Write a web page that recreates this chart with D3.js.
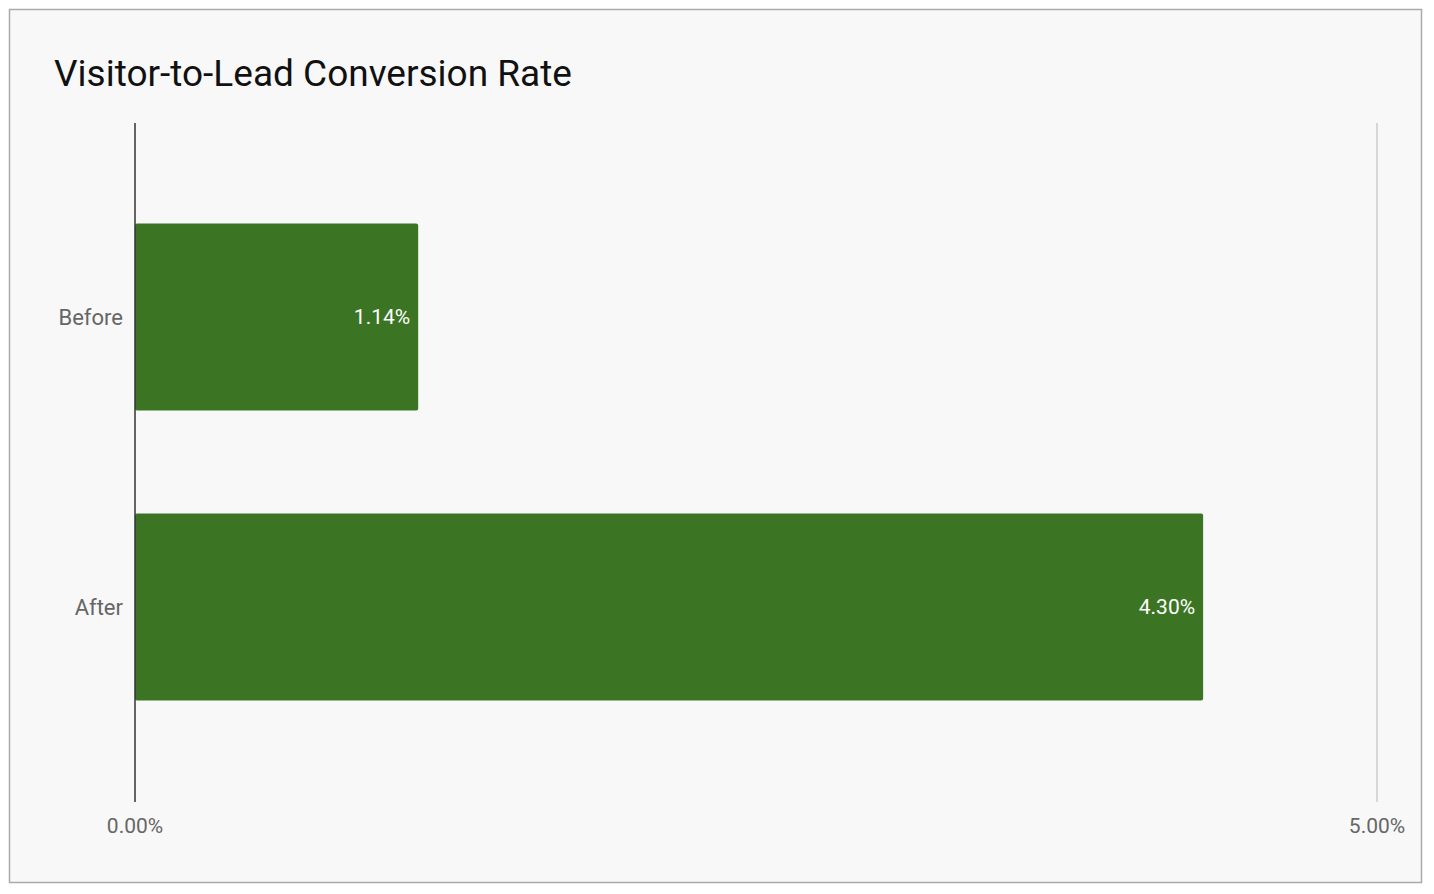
<!DOCTYPE html>
<html>
<head>
<meta charset="utf-8">
<script src="https://cdn.jsdelivr.net/npm/d3@7"></script>
<style>
  body { margin: 0; background: #fff; font-family: Roboto, "Noto Sans", sans-serif; }
</style>
</head>
<body>
<svg id="chart" width="1434" height="894"></svg>
<script>
// 数据
const categories = ['Before', 'After'];
const values = [1.14, 4.30];
const tickValues = [0, 5];

const svg = d3.select('#chart');

// 背景 和 边框
svg.append('rect')
    .attr('x', 9.5).attr('y', 9.5)
    .attr('width', 1412).attr('height', 873)
    .attr('fill', '#f8f8f8')
    .attr('stroke', '#aaaaaa')
    .attr('stroke-width', 1.5);

// 标题
svg.append('text')
    .attr('x', 54).attr('y', 86)
    .attr('font-size', 37)
    .attr('fill', '#111')
    .text('Visitor-to-Lead Conversion Rate');

// 比例尺
const xScale = d3.scaleLinear().domain([0, 5]).range([135, 1377]);
const yScale = d3.scaleBand()
    .domain(categories)
    .range([172, 752])
    .paddingInner(0.355)
    .paddingOuter(0.1775);

// 网格线
svg.selectAll('.grid')
    .data(tickValues.filter(d => d !== 0))
    .enter().append('line')
    .attr('x1', d => xScale(d)).attr('x2', d => xScale(d))
    .attr('y1', 123).attr('y2', 802)
    .attr('stroke', '#cccccc').attr('stroke-width', 1.5);

// 柱子
const data = categories.map((c, i) => ({cat: c, val: values[i]}));
svg.selectAll('.bar')
    .data(data)
    .enter().append('rect')
    .attr('x', xScale(0))
    .attr('y', d => yScale(d.cat))
    .attr('width', d => xScale(d.val) - xScale(0))
    .attr('height', yScale.bandwidth())
    .attr('rx', 2).attr('ry', 2)
    .attr('fill', '#3b7524');

// 数值 标签
svg.selectAll('.val')
    .data(data)
    .enter().append('text')
    .attr('x', d => xScale(d.val) - 8)
    .attr('y', d => yScale(d.cat) + yScale.bandwidth() / 2)
    .attr('dy', '0.35em')
    .attr('text-anchor', 'end')
    .attr('font-size', 21)
    .attr('fill', '#fff')
    .text(d => d.val.toFixed(2) + '%');

// 类别 标签
svg.selectAll('.cat')
    .data(categories)
    .enter().append('text')
    .attr('x', 123)
    .attr('y', d => yScale(d) + yScale.bandwidth() / 2)
    .attr('dy', '0.35em')
    .attr('text-anchor', 'end')
    .attr('font-size', 22)
    .attr('fill', '#666')
    .text(d => d);

// 零轴
svg.append('line')
    .attr('x1', xScale(0)).attr('x2', xScale(0))
    .attr('y1', 123).attr('y2', 802)
    .attr('stroke', '#333').attr('stroke-width', 1.5);

// 刻度 标签
svg.selectAll('.tick')
    .data(tickValues)
    .enter().append('text')
    .attr('x', d => xScale(d))
    .attr('y', 833)
    .attr('text-anchor', 'middle')
    .attr('font-size', 21)
    .attr('fill', '#666')
    .text(d => d.toFixed(2) + '%');
</script>
</body>
</html>
